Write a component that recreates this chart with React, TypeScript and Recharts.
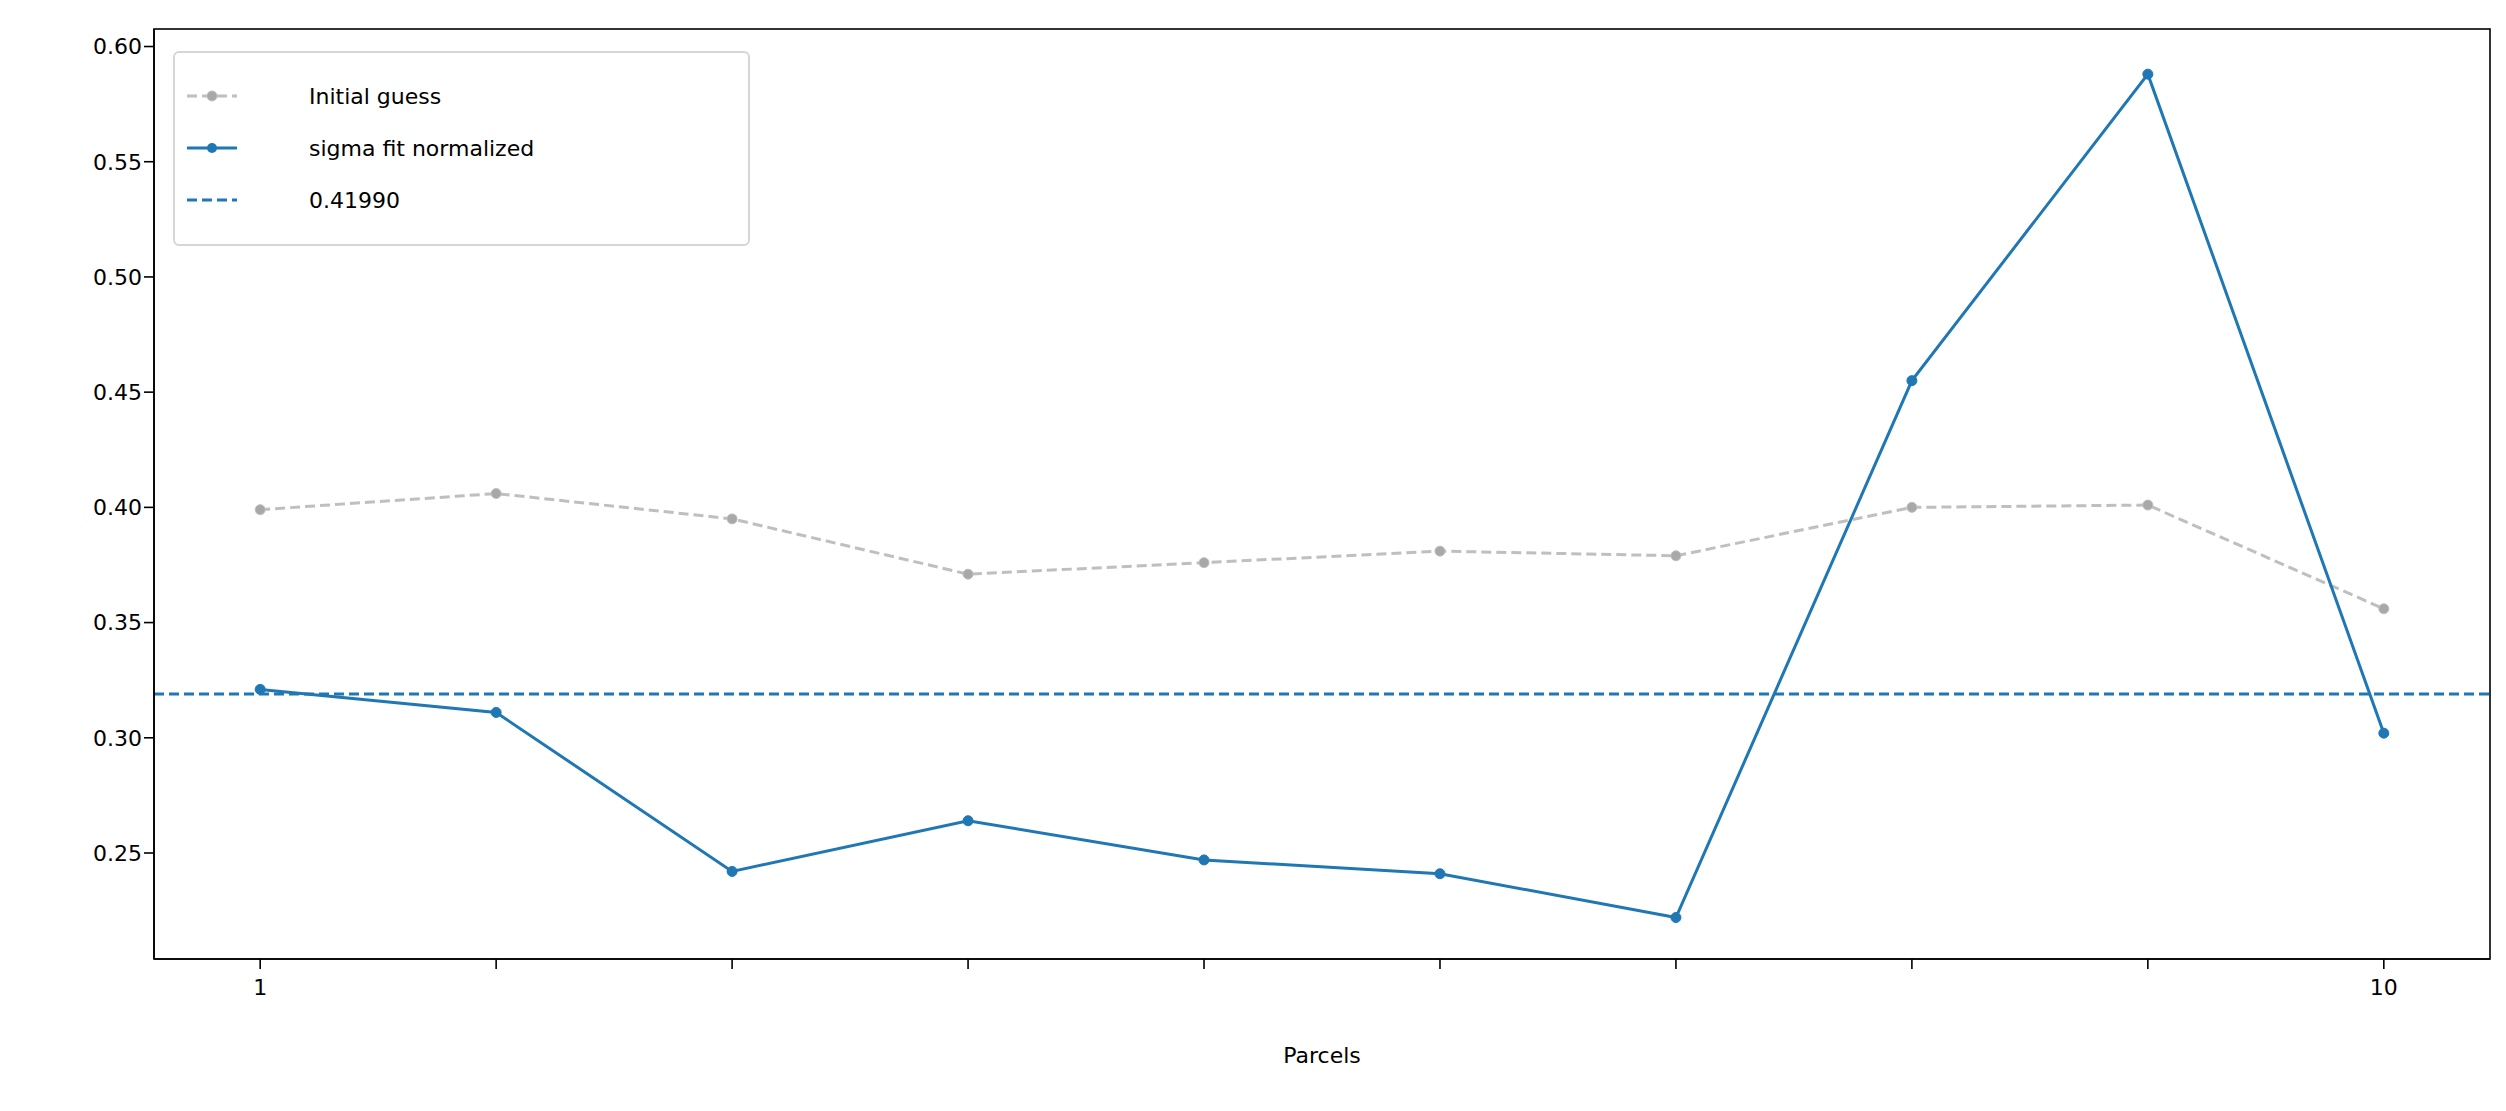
import React from "react";
import { LineChart, Line, XAxis, YAxis, ReferenceLine } from "recharts";

const parcels = [1, 2, 3, 4, 5, 6, 7, 8, 9, 10];
const initialGuess = [0.399, 0.406, 0.395, 0.371, 0.376, 0.381, 0.379, 0.4, 0.401, 0.356];
const sigmaFit = [0.321, 0.311, 0.242, 0.264, 0.247, 0.241, 0.222, 0.455, 0.588, 0.302];
const refValue = 0.319;
const refLabel = "0.41990";
const yTicks = [0.25, 0.3, 0.35, 0.4, 0.45, 0.5, 0.55, 0.6];
const xTickLabels: Record<number, string> = { 1: "1", 10: "10" };

const data = parcels.map((p, i) => ({ p, init: initialGuess[i], sigma: sigmaFit[i] }));
const FONT = "DejaVu Sans, sans-serif";

const LegendBox = () => {
  const row = (y: number, kind: string, label: string) => (
    <g key={label}>
      {kind === "init" && (
        <>
          <line x1={14} x2={64} y1={y} y2={y} stroke="#bfbfbf" strokeWidth={3} strokeDasharray="10 5" />
          <circle cx={39} cy={y} r={5} fill="#a8a8a8" stroke="#bfbfbf" />
        </>
      )}
      {kind === "sigma" && (
        <>
          <line x1={14} x2={64} y1={y} y2={y} stroke="#1f77b4" strokeWidth={3} />
          <circle cx={39} cy={y} r={5} fill="#1f77b4" />
        </>
      )}
      {kind === "ref" && (
        <line x1={14} x2={64} y1={y} y2={y} stroke="#1f77b4" strokeWidth={3} strokeDasharray="10 5" />
      )}
      <text x={136} y={y + 8} fontSize={22} fontFamily={FONT} fill="#000">{label}</text>
    </g>
  );
  return (
    <svg width={580} height={196} style={{ position: "absolute", left: 173, top: 51 }}>
      <rect x={1} y={1} width={575} height={193} rx={5} fill="#fff" fillOpacity={0.8} stroke="#d6d6d6" strokeWidth={2} />
      {row(45, "init", "Initial guess")}
      {row(97, "sigma", "sigma fit normalized")}
      {row(149, "ref", refLabel)}
    </svg>
  );
};

export default function App() {
  return (
    <div style={{ position: "absolute", left: 0, top: 0, width: 2506, height: 1111, background: "#fff" }}>
      <LineChart width={2506} height={1111} data={data} margin={{ left: 0, right: 16, top: 29, bottom: 0 }}>
        <XAxis
          dataKey="p"
          type="number"
          domain={[0.55, 10.45]}
          ticks={parcels}
          tickFormatter={(v: number) => xTickLabels[v] || ""}
          stroke="#000"
          strokeWidth={1.6}
          tickSize={10}
          tick={{ fontSize: 22, fontFamily: FONT, fill: "#000", dy: 8 }}
          height={152}
          label={{ value: "Parcels", position: "insideTop", offset: 88, fontSize: 22, fontFamily: FONT, fill: "#000" }}
        />
        <YAxis
          type="number"
          domain={[0.204, 0.6076]}
          ticks={yTicks}
          tickFormatter={(v: number) => v.toFixed(2)}
          stroke="#000"
          strokeWidth={1.6}
          tickSize={10}
          width={154}
          tick={{ fontSize: 22, fontFamily: FONT, fill: "#000" }}
          allowDataOverflow
        />
        <ReferenceLine y={refValue} stroke="#1f77b4" strokeWidth={3} strokeDasharray="10 5" />
        <Line dataKey="init" stroke="#bfbfbf" strokeWidth={3} strokeDasharray="10 5" dot={{ r: 5, fill: "#a8a8a8", stroke: "#bfbfbf", strokeWidth: 1, strokeDasharray: "" }} isAnimationActive={false} />
        <Line dataKey="sigma" stroke="#1f77b4" strokeWidth={3} dot={{ r: 5, fill: "#1f77b4", stroke: "#1f77b4", strokeWidth: 1 }} isAnimationActive={false} />
      </LineChart>
      <svg width={2506} height={1111} style={{ position: "absolute", left: 0, top: 0, pointerEvents: "none" }}>
        <rect x={154} y={29} width={2336} height={930} fill="none" stroke="#000" strokeWidth={1.6} />
      </svg>
      <LegendBox />
    </div>
  );
}
